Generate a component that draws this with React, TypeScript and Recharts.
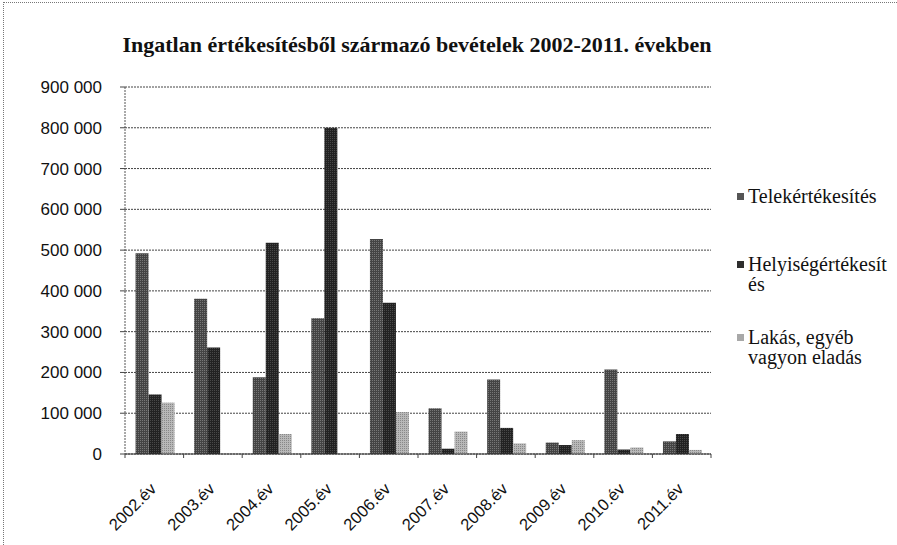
import React from "react";
import { BarChart, Bar, XAxis, YAxis, CartesianGrid } from "recharts";

const years = ["2002.év", "2003.év", "2004.év", "2005.év", "2006.év", "2007.év", "2008.év", "2009.év", "2010.év", "2011.év"];
const telek = [492000, 381000, 188000, 333000, 527000, 112000, 183000, 28000, 207000, 31000];
const helyiseg = [146000, 261000, 518000, 800000, 371000, 13000, 64000, 22000, 11000, 49000];
const lakas = [126000, 0, 49000, 0, 103000, 55000, 26000, 34000, 16000, 10000];
const seriesNames = ["Telekértékesítés", "Helyiségértékesítés", "Lakás, egyéb vagyon eladás"];
const legendLines = [["Telekértékesítés"], ["Helyiségértékesít", "és"], ["Lakás, egyéb", "vagyon eladás"]];
const yTicks = [0, 100000, 200000, 300000, 400000, 500000, 600000, 700000, 800000, 900000];
const title = "Ingatlan értékesítésből származó bevételek 2002-2011. években";

const data = years.map((year, i) => ({ year, telek: telek[i], helyiseg: helyiseg[i], lakas: lakas[i] }));

const seriesKeys = ["telek", "helyiseg", "lakas"];
const fills = ["url(#pTelek)", "url(#pHely)", "url(#pLakas)"];
const swatch = ["#555555", "#2e2e2e", "#a8a8a8"];

const serif = "'Liberation Serif', 'Times New Roman', serif";
const sans = "'Liberation Sans', Arial, sans-serif";

const fmt = (v: number) => String(v).replace(/\B(?=(\d{3})+(?!\d))/g, " ");

const XTick = (props: any) => {
  const { x, y, payload, index, visibleTicksCount, width } = props;
  const half = width && visibleTicksCount ? width / visibleTicksCount / 2 : payload?.offset ?? 0;
  const isLast = index === visibleTicksCount - 1;
  const tx = x + 3;
  const ty = y + 36;
  return (
    <g>
      <line x1={x - half} x2={x - half} y1={y} y2={y + 4} stroke="#444" />
      {isLast && <line x1={x + half} x2={x + half} y1={y} y2={y + 4} stroke="#444" />}
      <text
        x={tx}
        y={ty}
        transform={`rotate(-45, ${tx}, ${ty})`}
        textAnchor="end"
        fontSize={16.5}
        fontFamily={sans}
        fill="#111"
      >
        {payload.value}
      </text>
    </g>
  );
};

export default function App() {
  return (
    <div style={{ position: "absolute", left: 0, top: 0, width: 897, height: 545, background: "#fff", overflow: "hidden" }}>
      <div
        style={{
          position: "absolute",
          left: 3,
          top: 2,
          width: 894,
          height: 543,
          borderTop: "1px dotted #777",
          borderLeft: "1px dotted #777",
          boxSizing: "border-box",
        }}
      />
      <div
        style={{
          position: "absolute",
          left: 0,
          top: 32,
          width: 834,
          textAlign: "center",
          fontFamily: serif,
          fontWeight: "bold",
          fontSize: 22,
          lineHeight: "26px",
          color: "#111",
        }}
      >
        {title}
      </div>
      <div style={{ position: "absolute", left: 0, top: 0 }}>
        <BarChart
          width={897}
          height={545}
          data={data}
          margin={{ top: 87, right: 186, bottom: 0, left: 0 }}
          barCategoryGap="18%"
          barGap={0}
        >
          <defs>
            <pattern id="pTelek" width="2" height="2" patternUnits="userSpaceOnUse">
              <rect width="2" height="2" fill="#444444" />
              <rect width="1" height="1" fill="#777777" />
            </pattern>
            <pattern id="pHely" width="2" height="2" patternUnits="userSpaceOnUse">
              <rect width="2" height="2" fill="#222222" />
              <rect width="1" height="1" fill="#484848" />
            </pattern>
            <pattern id="pLakas" width="2" height="2" patternUnits="userSpaceOnUse">
              <rect width="2" height="2" fill="#b8b8b8" />
              <rect width="1" height="1" fill="#888888" />
            </pattern>
          </defs>
          <CartesianGrid vertical={false} stroke="#444" strokeDasharray="2 1" />
          <XAxis
            dataKey="year"
            height={91}
            interval={0}
            tickLine={false}
            tickSize={0}
            tickMargin={0}
            axisLine={{ stroke: "#333" }}
            tick={<XTick />}
          />
          <YAxis
            width={125}
            domain={[0, 900000]}
            ticks={yTicks}
            interval={0}
            tickFormatter={fmt}
            tickSize={5}
            tickMargin={18}
            tickLine={{ stroke: "#444" }}
            axisLine={{ stroke: "#555", strokeDasharray: "2 1" }}
            tick={{ fontSize: 17, fill: "#111", fontFamily: sans }}
          />
          {seriesKeys.map((k, i) => (
            <Bar key={k} dataKey={k} name={seriesNames[i]} fill={fills[i]} isAnimationActive={false} />
          ))}
        </BarChart>
      </div>
      <div
        style={{
          position: "absolute",
          left: 737,
          top: 186,
          fontFamily: serif,
          fontSize: 20,
          lineHeight: "20px",
          color: "#111",
        }}
      >
        {legendLines.map((lines, i) => (
          <div key={i} style={{ display: "flex", alignItems: "flex-start", marginBottom: i === 0 ? 48 : 33 }}>
            <div style={{ width: 7, height: 7, background: swatch[i], marginTop: 7, marginRight: 4, flex: "none" }} />
            <div>
              {lines.map((l, j) => (
                <div key={j}>{l}</div>
              ))}
            </div>
          </div>
        ))}
      </div>
    </div>
  );
}
